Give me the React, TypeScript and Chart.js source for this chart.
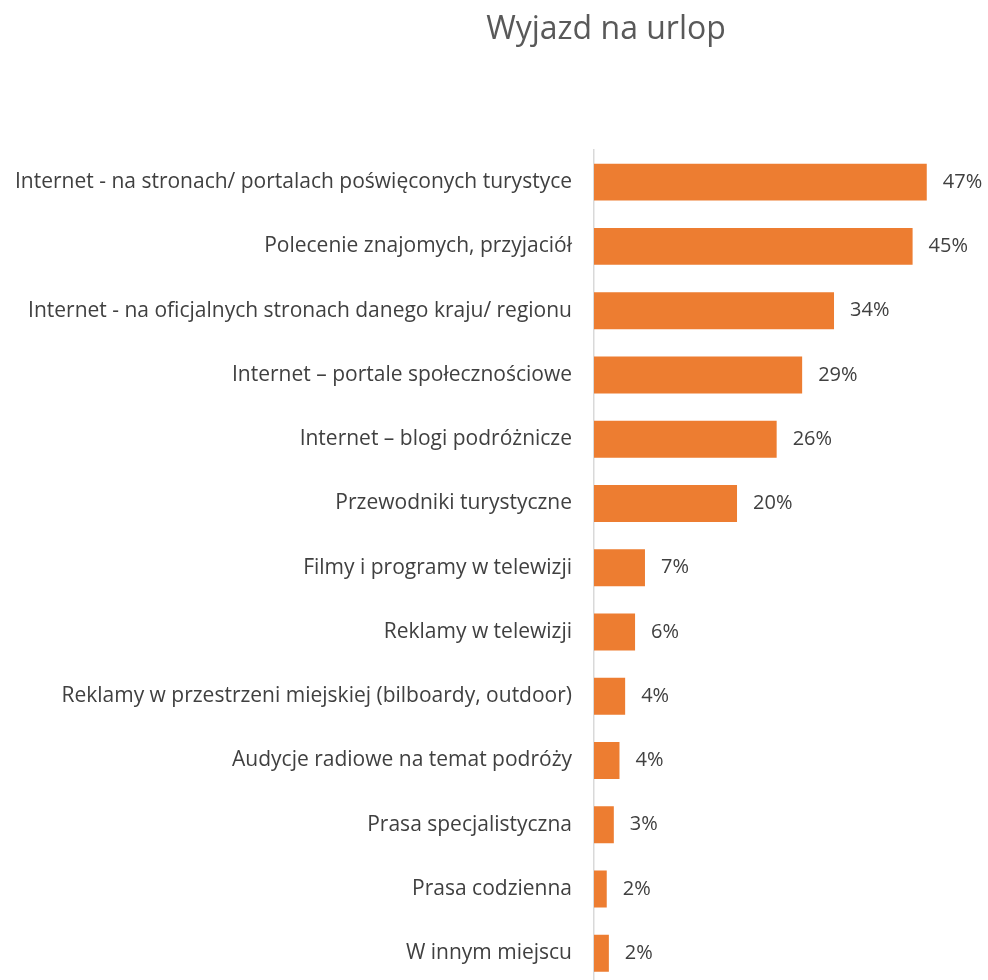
import React, { useEffect, useRef } from "react";
import { Chart, registerables } from "chart.js";

Chart.register(...registerables);

const title = "Wyjazd na urlop";
const categories = [
  "Internet - na stronach/ portalach poświęconych turystyce",
  "Polecenie znajomych, przyjaciół",
  "Internet - na oficjalnych stronach danego kraju/ regionu",
  "Internet – portale społecznościowe",
  "Internet – blogi podróżnicze",
  "Przewodniki turystyczne",
  "Filmy i programy w telewizji",
  "Reklamy w telewizji",
  "Reklamy w przestrzeni miejskiej (bilboardy, outdoor)",
  "Audycje radiowe na temat podróży",
  "Prasa specjalistyczna",
  "Prasa codzienna",
  "W innym miejscu",
];
const values = [47.0, 45.0, 33.9, 29.4, 25.8, 20.2, 7.2, 5.8, 4.4, 3.6, 2.8, 1.8, 2.1];

const FONT = "'Open Sans', sans-serif";

export default function App() {
  const ref = useRef<HTMLCanvasElement | null>(null);

  useEffect(() => {
    const canvas = ref.current;
    if (!canvas) return;

    const titlePlugin = {
      id: "customTitle",
      afterDraw(chart: any) {
        const ctx = chart.ctx;
        ctx.save();
        ctx.font = `32px ${FONT}`;
        ctx.fillStyle = "#595959";
        ctx.textAlign = "center";
        ctx.textBaseline = "alphabetic";
        ctx.fillText(title, 606, 39);
        ctx.restore();
      },
    };

    const labelPlugin = {
      id: "valueLabels",
      afterDatasetsDraw(chart: any) {
        const ctx = chart.ctx;
        const meta = chart.getDatasetMeta(0);
        ctx.save();
        ctx.font = `20px ${FONT}`;
        ctx.fillStyle = "#404040";
        ctx.textAlign = "left";
        ctx.textBaseline = "middle";
        meta.data.forEach((bar: any, i: number) => {
          ctx.fillText(Math.round(values[i]) + "%", bar.x + 16, bar.y);
        });
        ctx.restore();
      },
    };

    const chart = new Chart(canvas, {
      type: "bar",
      data: {
        labels: categories,
        datasets: [
          {
            data: values,
            backgroundColor: "#ED7D31",
            borderWidth: 0,
            categoryPercentage: 1,
            barPercentage: 0.575,
          },
        ],
      },
      options: {
        indexAxis: "y",
        animation: false,
        responsive: false,
        maintainAspectRatio: false,
        layout: { padding: { left: 10, right: 40, top: 150, bottom: 0 } },
        plugins: {
          legend: { display: false },
          title: { display: false },
          tooltip: { enabled: false },
        },
        scales: {
          x: { display: false, min: 0, max: 50 },
          y: {
            afterFit(scale: any) {
              scale.width = 584;
            },
            grid: { display: false, drawTicks: false },
            border: { display: true, color: "#d9d9d9", width: 1.5 },
            ticks: {
              padding: 22,
              color: "#404040",
              font: { family: FONT, size: 21 },
              autoSkip: false,
            },
          },
        },
      },
      plugins: [titlePlugin, labelPlugin],
    });

    return () => chart.destroy();
  }, []);

  return (
    <div
      style={{
        position: "fixed",
        left: 0,
        top: 0,
        width: 988,
        height: 980,
        overflow: "hidden",
        background: "#ffffff",
      }}
    >
      <div style={{ position: "relative", width: 988, height: 1020 }}>
        <canvas
          ref={ref}
          width={988}
          height={1020}
          style={{ display: "block", width: 988, height: 1020 }}
        />
      </div>
    </div>
  );
}
